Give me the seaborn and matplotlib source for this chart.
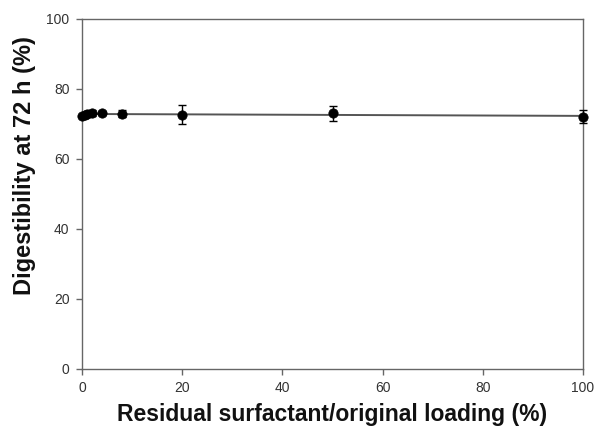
import matplotlib
matplotlib.use("Agg")
import matplotlib.pyplot as plt
import seaborn as sns
import numpy as np
import pandas as pd

sns.set_style("ticks")
plt.rcParams['font.family'] = ['Liberation Sans', 'DejaVu Sans']

# Data
residual = [0, 0.5, 1, 2, 4, 8, 20, 50, 100]
digestibility = [72.3, 72.6, 72.8, 73.2, 73.2, 72.9, 72.7, 73.0, 72.1]
err = [0.4, 0.5, 0.6, 0.9, 0.6, 1.0, 2.7, 2.2, 1.8]

df = pd.DataFrame({"x": residual, "y": digestibility, "e": err})

fig = plt.figure(figsize=(5.96, 4.32), dpi=100)
ax = fig.add_axes([82/596, 63/432, (583-82)/596, (369-19)/432])

sns.regplot(data=df, x="x", y="y", ax=ax, ci=None, scatter=False,
            line_kws=dict(color="#555555", lw=1.4))
ax.errorbar(df["x"], df["y"], yerr=df["e"], fmt="none", ecolor="black",
            elinewidth=1, capsize=3, capthick=1, zorder=3)
sns.scatterplot(data=df, x="x", y="y", ax=ax, color="black", s=45,
                edgecolor="black", zorder=4)

ax.set_xlim(0, 100)
ax.set_ylim(0, 100)
ax.set_xticks([0, 20, 40, 60, 80, 100])
ax.set_yticks([0, 20, 40, 60, 80, 100])
for s in ax.spines.values():
    s.set_visible(True)
    s.set_color("#666666")
    s.set_linewidth(1)
ax.tick_params(direction="out", length=4, width=1, color="#666666",
               labelsize=10, labelcolor="#333333", pad=5)
ax.set_xlabel("Residual surfactant/original loading (%)", fontsize=16.5,
              fontweight="bold", color="#111111")
ax.set_ylabel("Digestibility at 72 h (%)", fontsize=17, fontweight="bold",
              color="#111111")
ax.xaxis.set_label_coords(0.5, (369 - 415) / 350)
ax.xaxis.label.set_verticalalignment("center")
ax.yaxis.set_label_coords((25 - 82) / 501, (369 - 166) / 350)
ax.yaxis.label.set_verticalalignment("center")
for c in ax.collections:
    c.set_clip_on(False)
for l in ax.lines:
    l.set_clip_on(False)

fig.savefig("out.png", dpi=100)
